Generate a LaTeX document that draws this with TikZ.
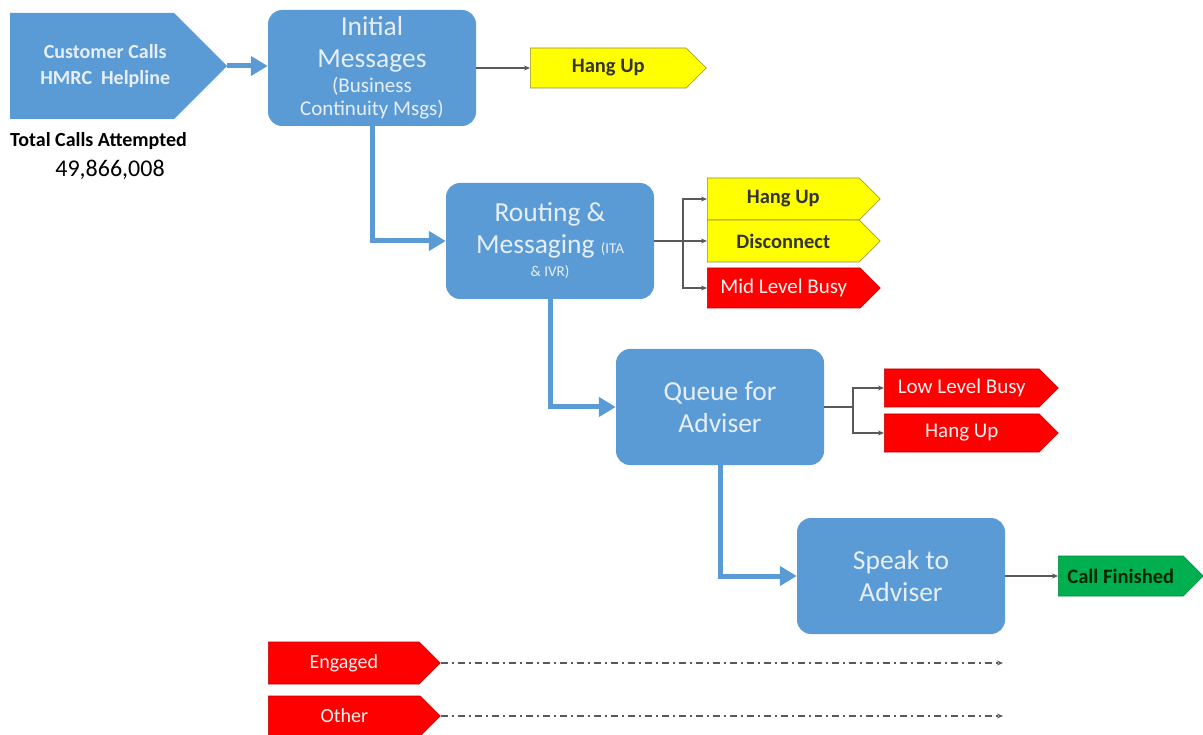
\documentclass[tikz,border=0pt]{standalone}
\usepackage{fontspec}
\setmainfont{Carlito}
\usetikzlibrary{positioning,shapes.symbols,arrows.meta}

\definecolor{boxblue}{HTML}{5B9BD5}
\definecolor{boxtext}{HTML}{E6EFF9}
\definecolor{tagyellow}{HTML}{FFFF00}
\definecolor{tagred}{HTML}{FF0000}
\definecolor{taggreen}{HTML}{00B050}
\definecolor{linegray}{HTML}{595959}
\newcommand{\minor}{\fontsize{21}{25}\selectfont}
\newcommand{\smallnote}{\fontsize{15}{18}\selectfont}

\begin{document}
\begin{tikzpicture}[
  x=1pt, y=-1pt,
  stage/.style={fill=boxblue, rounded corners=14pt, text=boxtext, align=center, minimum width=208pt, minimum height=116pt, inner sep=2pt, font=\fontsize{27.5}{32}\selectfont},
  tag/.style={shape=signal, signal to=east, signal pointer angle=90, minimum width=176pt, minimum height=40pt, inner sep=1pt, anchor=west, line width=0.6pt, font=\fontsize{21}{25}\selectfont},
  yellowtag/.style={tag, fill=tagyellow, draw=olive!60!gray, text=black!80, font=\fontsize{20.5}{25}\selectfont\bfseries},
  redtag/.style={tag, fill=tagred, draw=red!75!black, text=red!6},
  greentag/.style={tag, fill=taggreen, draw=taggreen!75!black, text=black!85!green, font=\fontsize{20.5}{25}\selectfont\bfseries},
  flow/.style={line width=5pt, draw=boxblue, -{Triangle[length=17pt,width=19pt]}},
  branch/.style={line width=1.4pt, draw=linegray, -{Stealth[length=6pt,width=5pt]}},
  drop/.style={branch, dash pattern=on 7pt off 4pt on 2pt off 4pt}
]
\useasboundingbox (0,0) rectangle (1203,735);

% start of the call
\node[stage, shape=signal, signal to=east, signal pointer angle=90, rounded corners=0pt, anchor=west, minimum width=217pt, minimum height=106pt, font=\fontsize{20}{26}\selectfont\bfseries] (cust) at (10,66) {\hspace*{26pt}Customer Calls\\\hspace*{26pt}HMRC\ \ Helpline};
\node[anchor=north west, inner sep=0pt, font=\fontsize{20}{24}\selectfont\bfseries] (total) at (10,132) {Total Calls Attempted};
\node[font=\fontsize{24}{28}\selectfont] (count) at (110,170) {49,866,008};

% stages
\node[stage] (init) at (372,68) {Initial\\Messages\\[-7pt]{\minor (Business}\\[-9pt]{\minor Continuity Msgs)}};
\node[stage] (route) at (550,241) {Routing \&\\Messaging {\smallnote(ITA}\\[-9pt]{\smallnote \& IVR)}};
\node[stage] (queue) at (720,407) {Queue for\\Adviser};
\node[stage] (speak) at (901,576) {Speak to\\Adviser};

% outcomes
\node[yellowtag] (hangA) at (530,68) {Hang Up};
\node[yellowtag, minimum width=173pt, minimum height=42pt] (hangB) at (707,199) {Hang Up};
\node[yellowtag, minimum width=173pt, minimum height=42pt] (disc) at (707,241) {Disconnect};
\node[redtag, minimum width=173pt] (mid) at (707,288) {Mid Level Busy};
\node[redtag, minimum width=174pt, minimum height=38pt] (low) at (884,388) {Low Level Busy};
\node[redtag, minimum width=174pt, minimum height=38pt] (hangC) at (884,433) {Hang Up};
\node[greentag, minimum width=145pt] (done) at (1058,576) {Call Finished};
\node[redtag, minimum width=172pt, minimum height=42pt, font=\fontsize{20}{24}\selectfont] (engaged) at (268,663) {Engaged};
\node[redtag, minimum width=172pt, minimum height=40pt, font=\fontsize{20}{24}\selectfont] (other) at (268,716) {Other};

\coordinate (rsplit) at (683,241);
\coordinate (qsplit) at (853,407);
\coordinate (engEnd) at (1003,663);
\coordinate (othEnd) at (1003,716);

% main flow
\draw[flow] (cust.east) -- (init.west |- cust.east);
\draw[flow] (init.south) |- (route.west);
\draw[flow] (route.south) |- (queue.west);
\draw[flow] (queue.south) |- (speak.west);

% drop-outs
\draw[branch] (init.east) -- (hangA.west);
\draw[branch] (route.east) -- (rsplit) |- (hangB.west);
\draw[branch] (route.east) -- (disc.west);
\draw[branch] (route.east) -- (rsplit) |- (mid.west);
\draw[branch] (queue.east) -- (qsplit) |- (low.west);
\draw[branch] (queue.east) -- (qsplit) |- (hangC.west);
\draw[branch] (speak.east) -- (done.west);
\draw[drop] (engaged.east) -- (engEnd);
\draw[drop] (other.east) -- (othEnd);
\end{tikzpicture}
\end{document}
